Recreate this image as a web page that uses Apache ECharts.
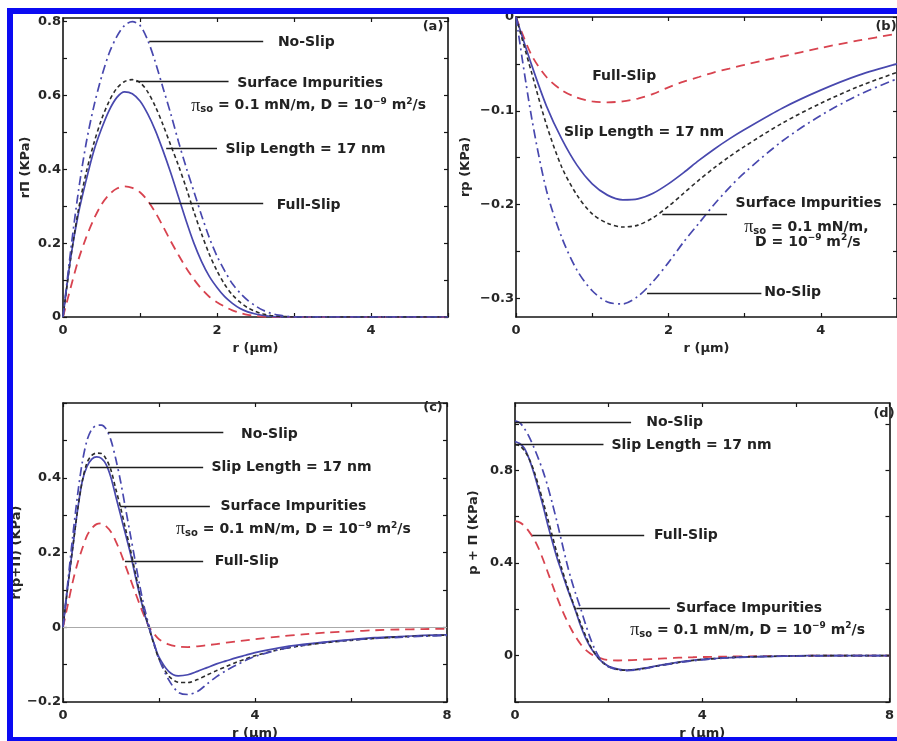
<!DOCTYPE html>
<html>
<head>
<meta charset="utf-8">
<script src="https://cdn.jsdelivr.net/npm/echarts@6/dist/echarts.min.js"></script>
<style>
html,body{margin:0;padding:0;background:#fff;}
#chart{width:897px;height:741px;}
</style>
</head>
<body>
<div id="chart"></div>
<script>
// ---------- Panel (a): rΠ vs r ----------
const rA = [0,0.1,0.2,0.3,0.4,0.5,0.6,0.7,0.8,0.9,1.0,1.1,1.2,1.3,1.4,1.5,1.6,1.7,1.8,1.9,2.0,2.1,2.2,2.3,2.4,2.5,2.6,2.7,2.8,2.9,3.0,4.0,5.0];
const aNoSlip  = [0,0.18,0.34,0.47,0.57,0.65,0.715,0.76,0.79,0.80,0.79,0.75,0.69,0.62,0.55,0.475,0.405,0.34,0.275,0.215,0.165,0.125,0.09,0.065,0.045,0.03,0.018,0.01,0.005,0.002,0,0,0];
const aSurface = [0,0.16,0.29,0.39,0.47,0.535,0.585,0.62,0.638,0.643,0.635,0.61,0.57,0.52,0.465,0.41,0.35,0.285,0.225,0.17,0.125,0.088,0.06,0.04,0.025,0.015,0.008,0.004,0.002,0.001,0,0,0];
const aSlip17  = [0,0.16,0.28,0.37,0.45,0.51,0.56,0.595,0.61,0.605,0.585,0.55,0.505,0.45,0.39,0.325,0.26,0.2,0.15,0.11,0.08,0.055,0.037,0.023,0.014,0.008,0.004,0.002,0,0,0,0,0];
const aFull    = [0,0.08,0.155,0.215,0.265,0.305,0.332,0.348,0.354,0.35,0.338,0.315,0.283,0.245,0.205,0.168,0.133,0.102,0.076,0.055,0.04,0.028,0.018,0.011,0.006,0.003,0.001,0,0,0,0,0,0];

// ---------- Panel (b): rp vs r ----------
const rB = [0,0.2,0.4,0.6,0.8,1.0,1.2,1.4,1.6,1.8,2.0,2.2,2.4,2.6,2.8,3.0,3.5,4.0,4.5,5.0];
const bFull    = [0,-0.04,-0.064,-0.078,-0.086,-0.09,-0.091,-0.09,-0.087,-0.082,-0.075,-0.069,-0.064,-0.059,-0.055,-0.051,-0.042,-0.033,-0.025,-0.018];
const bSlip17  = [0,-0.05,-0.095,-0.13,-0.158,-0.178,-0.19,-0.195,-0.194,-0.188,-0.178,-0.166,-0.153,-0.141,-0.13,-0.12,-0.097,-0.078,-0.062,-0.05];
const bSurface = [0,-0.058,-0.115,-0.16,-0.19,-0.21,-0.22,-0.224,-0.222,-0.214,-0.202,-0.188,-0.174,-0.161,-0.149,-0.138,-0.113,-0.092,-0.074,-0.059];
const bNoSlip  = [0,-0.105,-0.185,-0.235,-0.27,-0.292,-0.304,-0.306,-0.298,-0.282,-0.262,-0.24,-0.22,-0.2,-0.182,-0.166,-0.132,-0.105,-0.083,-0.066];

// ---------- Panel (c): r(p+Π) vs r ----------
const rC = [0,0.1,0.2,0.3,0.4,0.5,0.6,0.7,0.8,0.9,1.0,1.1,1.2,1.3,1.4,1.5,1.6,1.7,1.8,1.9,2.0,2.2,2.4,2.6,2.8,3.0,3.2,3.4,3.6,3.8,4.0,4.5,5.0,5.5,6.0,6.5,7.0,7.5,8.0];
const cNoSlip  = [0,0.12,0.24,0.35,0.44,0.5,0.53,0.54,0.541,0.53,0.5,0.45,0.39,0.32,0.25,0.18,0.11,0.05,0,-0.045,-0.085,-0.14,-0.174,-0.18,-0.172,-0.152,-0.132,-0.116,-0.102,-0.089,-0.078,-0.06,-0.048,-0.04,-0.034,-0.03,-0.027,-0.024,-0.022];
const cSlip17  = [0,0.11,0.21,0.31,0.39,0.43,0.45,0.456,0.452,0.435,0.4,0.35,0.3,0.25,0.2,0.14,0.085,0.035,-0.005,-0.045,-0.08,-0.118,-0.13,-0.127,-0.118,-0.108,-0.098,-0.09,-0.082,-0.075,-0.068,-0.055,-0.046,-0.039,-0.033,-0.028,-0.025,-0.022,-0.02];
const cSurface = [0,0.11,0.21,0.31,0.39,0.44,0.46,0.466,0.465,0.45,0.42,0.37,0.32,0.265,0.21,0.15,0.09,0.04,-0.005,-0.048,-0.085,-0.13,-0.147,-0.148,-0.14,-0.128,-0.116,-0.105,-0.094,-0.085,-0.076,-0.06,-0.049,-0.041,-0.035,-0.03,-0.026,-0.023,-0.021];
const cFull    = [0,0.06,0.12,0.17,0.21,0.245,0.265,0.276,0.278,0.27,0.255,0.23,0.2,0.165,0.13,0.095,0.06,0.028,0,-0.018,-0.032,-0.046,-0.052,-0.053,-0.051,-0.048,-0.045,-0.041,-0.038,-0.035,-0.032,-0.025,-0.019,-0.014,-0.011,-0.008,-0.006,-0.005,-0.004];

// ---------- Panel (d): p+Π vs r ----------
const rD = rC;
const dNoSlip  = [1.013,1.005,0.98,0.945,0.9,0.85,0.795,0.73,0.655,0.575,0.49,0.405,0.33,0.265,0.205,0.14,0.08,0.03,-0.008,-0.032,-0.048,-0.062,-0.065,-0.062,-0.055,-0.047,-0.04,-0.033,-0.027,-0.022,-0.018,-0.01,-0.006,-0.003,-0.002,-0.001,0,0,0];
const dSlip17  = [0.924,0.915,0.895,0.85,0.79,0.72,0.645,0.565,0.49,0.42,0.36,0.3,0.245,0.19,0.13,0.08,0.04,0.01,-0.015,-0.033,-0.046,-0.058,-0.062,-0.059,-0.053,-0.045,-0.038,-0.031,-0.025,-0.02,-0.016,-0.009,-0.005,-0.003,-0.001,0,0,0,0];
const dSurface = [0.91,0.905,0.885,0.85,0.8,0.735,0.665,0.59,0.515,0.44,0.375,0.31,0.25,0.195,0.14,0.09,0.045,0.012,-0.014,-0.034,-0.048,-0.06,-0.063,-0.06,-0.054,-0.046,-0.039,-0.032,-0.026,-0.021,-0.017,-0.009,-0.005,-0.003,-0.001,0,0,0,0];
const dFull    = [0.58,0.575,0.56,0.535,0.505,0.465,0.415,0.36,0.305,0.25,0.2,0.155,0.115,0.08,0.05,0.027,0.01,-0.002,-0.01,-0.016,-0.019,-0.021,-0.02,-0.018,-0.016,-0.014,-0.012,-0.01,-0.008,-0.007,-0.006,-0.004,-0.003,-0.002,-0.001,0,0,0,0];

// ---------- Tick marks and tick labels ----------
const xTicksA = [0,1,2,3,4,5], xLabelsA = [0,2,4];
const yTicksA = [0,0.1,0.2,0.3,0.4,0.5,0.6,0.7,0.8], yLabelsA = [0,0.2,0.4,0.6,0.8];
const xTicksB = [0,1,2,3,4,5], xLabelsB = [0,2,4];
const yTicksB = [-0.3,-0.25,-0.2,-0.15,-0.1,-0.05,0], yLabelsB = [-0.3,-0.2,-0.1,0];
const xTicksC = [0,2,4,6,8], xLabelsC = [0,4,8];
const yTicksC = [-0.2,-0.1,0,0.1,0.2,0.3,0.4,0.5,0.6], yLabelsC = [-0.2,0,0.2,0.4];
const xTicksD = [0,2,4,6,8], xLabelsD = [0,4,8];
const yTicksD = [-0.2,0,0.2,0.4,0.6,0.8,1.0], yLabelsD = [0,0.4,0.8];

// ---------- Annotation texts and pointer lines (data coordinates) ----------
const PI_TXT = '{p|π}{s|so} = 0.1 mN/m, D = 10{u|−9} m{u|2}/s';
const textsA = [['No-Slip',3.16,0.743],['Surface Impurities',3.21,0.633],[PI_TXT,3.19,0.572],['Slip Length = 17 nm',3.15,0.454],['Full-Slip',3.19,0.303]];
const linesA = [[[1.12,0.747],[2.6,0.747]],[[0.95,0.638],[2.15,0.638]],[[1.34,0.456],[2.0,0.456]],[[1.12,0.307],[2.6,0.307]]];
const textsB = [['Full-Slip',1.42,-0.063],['Slip Length = 17 nm',1.68,-0.123],['Surface Impurities',3.84,-0.199],['{p|π}{s|so} = 0.1 mN/m,',3.81,-0.224],['D = 10{u|−9} m{u|2}/s',3.83,-0.24],['No-Slip',3.63,-0.294]];
const linesB = [[[1.92,-0.21],[2.77,-0.21]],[[1.72,-0.2945],[3.22,-0.2945]]];
const textsC = [['No-Slip',4.3,0.516],['Slip Length = 17 nm',4.76,0.428],['Surface Impurities',4.8,0.324],[PI_TXT,4.8,0.261],['Full-Slip',3.83,0.177]];
const linesC = [[[0.94,0.522],[3.34,0.522]],[[0.56,0.428],[2.92,0.428]],[[1.19,0.324],[3.06,0.324]],[[1.29,0.177],[2.92,0.177]]];
const textsD = [['No-Slip',3.41,1.005],['Slip Length = 17 nm',3.77,0.907],['Full-Slip',3.65,0.518],['Surface Impurities',5.0,0.205],[PI_TXT,4.97,0.109]];
const linesD = [[[0,1.008],[2.48,1.008]],[[0,0.912],[1.89,0.912]],[[0.37,0.518],[2.76,0.518]],[[1.31,0.205],[3.31,0.205]]];

// ---------- Styles ----------
const FONT = "'DejaVu Sans', 'Liberation Sans', Arial, sans-serif";
const BLUE = '#4848ae', RED = '#d8434f', BLACK = '#2c2c2c';
const AX = '#151515';

const chart = echarts.init(document.getElementById('chart'), null, {renderer:'canvas'});

function fmt(v){ const s = String(+(+v).toFixed(2)); return s.replace('-', '\u2212'); }

const grids = [
  {left:63, top:18, width:385, height:299},
  {left:516, top:17, width:384, height:300},
  {left:63, top:403, width:384, height:300},
  {left:515, top:403, width:386, height:300}
];
const cfg = [
  {xmin:0,xmax:5,xt:xTicksA,xl:xLabelsA,ymin:0,ymax:0.81,yt:yTicksA,yl:yLabelsA,yname:'rΠ (KPa)',ygap:31,ynOff:0},
  {xmin:0,xmax:5,xt:xTicksB,xl:xLabelsB,ymin:-0.32,ymax:0,yt:yTicksB,yl:yLabelsB,yname:'rp (KPa)',ygap:44,ynOff:0},
  {xmin:0,xmax:8,xt:xTicksC,xl:xLabelsC,ymin:-0.2,ymax:0.6,yt:yTicksC,yl:yLabelsC,yname:'r(p+Π) (KPa)',ygap:38,ynOff:0},
  {xmin:0,xmax:8,xt:xTicksD,xl:xLabelsD,ymin:-0.2,ymax:1.09,yt:yTicksD,yl:yLabelsD,yname:'p + Π (KPa)',ygap:35,ynOff:40}
];

const xAxes = [], yAxes = [];
cfg.forEach((c, g) => {
  const lab = {fontFamily:FONT, fontWeight:'bold', fontSize:13, color:'#262626'};
  const line = {show:true, onZero:false, lineStyle:{color:AX, width:1.6}};
  const tick = {show:true, inside:true, length:4, lineStyle:{color:AX, width:1.2}};
  xAxes.push({type:'value', gridIndex:g, min:c.xmin, max:c.xmax, position:'bottom',
    name:'r (μm)', nameLocation:'middle', nameGap:25,
    nameTextStyle:{fontFamily:FONT, fontWeight:'bold', fontSize:13, color:'#262626'},
    axisLine:line,
    axisTick:Object.assign({customValues:c.xt}, tick),
    axisLabel:Object.assign({show:true, margin:7, customValues:c.xl, formatter:fmt}, lab),
    splitLine:{show:false}});
  xAxes.push({type:'value', gridIndex:g, min:c.xmin, max:c.xmax, position:'top',
    axisLine:line,
    axisTick:Object.assign({customValues:c.xt}, tick),
    axisLabel:{show:false}, splitLine:{show:false}});
  yAxes.push({type:'value', gridIndex:g, min:c.ymin, max:c.ymax, position:'left',
    name:c.yname, nameLocation:'middle', nameGap:c.ygap,
    nameTextStyle:{fontFamily:FONT, fontWeight:'bold', fontSize:13, color:'#262626', padding:[0,0,0,c.ynOff]},
    axisLine:line,
    axisTick:Object.assign({customValues:c.yt}, tick),
    axisLabel:Object.assign({show:true, margin:2, customValues:c.yl, formatter:fmt}, lab),
    splitLine:{show:false}});
  yAxes.push({type:'value', gridIndex:g, min:c.ymin, max:c.ymax, position:'right',
    axisLine:line,
    axisTick:Object.assign({customValues:c.yt}, tick),
    axisLabel:{show:false}, splitLine:{show:false}});
});

const rich = {
  p:{fontFamily:"'Liberation Serif', 'DejaVu Serif', serif", fontSize:18, fontWeight:'normal', color:'#222', lineHeight:18},
  s:{fontFamily:FONT, fontSize:10, fontWeight:'bold', color:'#222', verticalAlign:'bottom', lineHeight:18},
  u:{fontFamily:FONT, fontSize:9, fontWeight:'bold', color:'#222', verticalAlign:'top', lineHeight:18}
};

function mk(g, xs, ys, color, type, width){
  return {type:'line', xAxisIndex:g*2, yAxisIndex:g*2, data:xs.map((x,i)=>[x,ys[i]]),
    symbol:'none', showSymbol:false, smooth:0.3, animation:false, z:3,
    lineStyle:{color, type, width}};
}
function annot(g, texts, lines, extra){
  const ml = lines.map(l => [{coord:l[0]},{coord:l[1]}]);
  return {type:'line', xAxisIndex:g*2, yAxisIndex:g*2, data:[], symbol:'none', animation:false, silent:true, z:4,
    markLine:{silent:true, symbol:['none','none'], animation:false,
      lineStyle:{color:'#1e1e1e', width:1.4, type:'solid'}, label:{show:false},
      data:ml.concat(extra||[])},
    markPoint:{silent:true, symbol:'circle', symbolSize:1, animation:false,
      itemStyle:{color:'rgba(0,0,0,0)'},
      label:{show:true, position:'inside', formatter:'{b}', fontFamily:FONT, fontWeight:'bold', fontSize:14, color:'#222', lineHeight:18, rich},
      data:texts.map(t => ({name:t[0], coord:[t[1],t[2]]}))}
  };
}

const series = [
  mk(0, rA, aFull, RED, [9,6], 1.8),
  mk(0, rA, aSlip17, BLUE, 'solid', 1.7),
  mk(0, rA, aSurface, BLACK, [4,3], 1.6),
  mk(0, rA, aNoSlip, BLUE, [9,4,2,4], 1.7),
  annot(0, textsA, linesA),
  mk(1, rB, bFull, RED, [9,6], 1.8),
  mk(1, rB, bSlip17, BLUE, 'solid', 1.7),
  mk(1, rB, bSurface, BLACK, [4,3], 1.6),
  mk(1, rB, bNoSlip, BLUE, [9,4,2,4], 1.7),
  annot(1, textsB, linesB),
  mk(2, rC, cFull, RED, [9,6], 1.8),
  mk(2, rC, cSlip17, BLUE, 'solid', 1.7),
  mk(2, rC, cSurface, BLACK, [4,3], 1.6),
  mk(2, rC, cNoSlip, BLUE, [9,4,2,4], 1.7),
  annot(2, textsC, linesC, [{yAxis:0, lineStyle:{color:'#aaaaaa', width:1}}]),
  mk(3, rD, dFull, RED, [9,6], 1.8),
  mk(3, rD, dSlip17, BLUE, 'solid', 1.7),
  mk(3, rD, dSurface, BLACK, [4,3], 1.6),
  mk(3, rD, dNoSlip, BLUE, [9,4,2,4], 1.7),
  annot(3, textsD, linesD)
];

const panelTxt = {fontFamily:FONT, fontWeight:'bold', fontSize:13, fill:'#262626', textAlign:'center', textVerticalAlign:'middle'};
const option = {
  backgroundColor:'#ffffff',
  animation:false,
  grid:grids,
  xAxis:xAxes,
  yAxis:yAxes,
  series:series,
  graphic:[
    {type:'text', x:433, y:27, z:50, style:Object.assign({text:'(a)'}, panelTxt)},
    {type:'text', x:886, y:27, z:50, style:Object.assign({text:'(b)'}, panelTxt)},
    {type:'text', x:433, y:408, z:50, style:Object.assign({text:'(c)'}, panelTxt)},
    {type:'text', x:884, y:414, z:50, style:Object.assign({text:'(d)'}, panelTxt)},
    {type:'rect', z:100, shape:{x:10, y:11, width:900, height:729}, style:{fill:'none', stroke:'#0b0bf2', lineWidth:6}}
  ]
};
chart.setOption(option);
</script>
</body>
</html>
